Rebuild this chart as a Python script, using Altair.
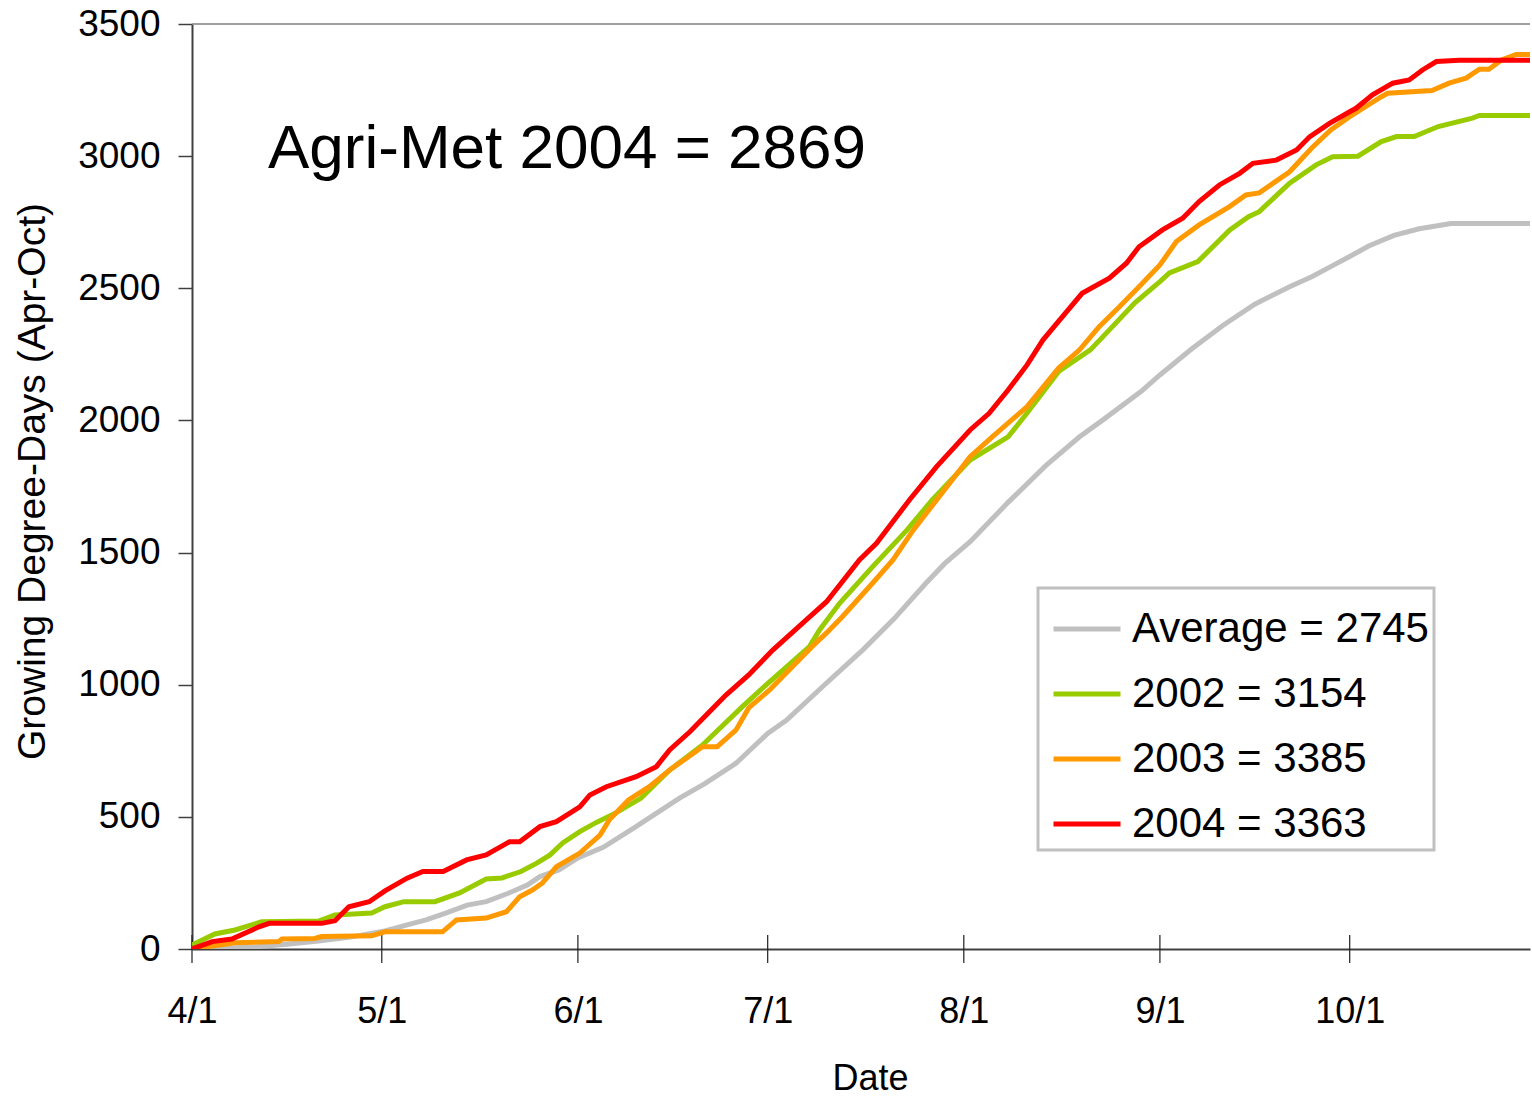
import altair as alt
import pandas as pd

# ---------------- data ----------------
series_names = ["Average = 2745", "2002 = 3154", "2003 = 3385", "2004 = 3363"]
series_colors = ["#C0C0C0", "#99CC00", "#FF9900", "#FF0000"]

avg_days = [0, 5, 10, 15, 20, 25, 30.5, 34, 37, 40, 43.5, 46.5, 50, 53, 55, 58, 61,
            65, 70, 77, 81, 86, 91, 94, 100, 106, 111, 116, 119, 123, 129, 135,
            140.3, 144, 150, 153, 158, 163, 168, 173.5, 177, 180, 183, 186, 190,
            194, 199, 213]
avg_vals = [0, 3, 8, 18, 30, 45, 68, 91, 110, 135, 166, 179, 211, 242, 274, 299, 345,
            385, 460, 570, 625, 703, 816, 866, 1000, 1131, 1250, 1384, 1459, 1541, 1690, 1830,
            1938, 2002, 2109, 2172, 2270, 2360, 2440, 2506, 2544, 2582, 2620, 2660, 2700,
            2725, 2745, 2745]

y2002_days = [0, 3.6, 6.8, 11, 20, 22.6, 28.4, 30.5, 33.5, 38.4, 42.3, 46.5, 49, 52, 54.5,
              56.6, 58.6, 61.3, 64, 67, 71, 75.5, 80.7, 87, 91.3, 97.6, 99.2, 102.4, 107.6,
              113, 117, 123, 129, 132, 137, 142, 145.5, 149, 153, 154.5, 159, 164, 167,
              168.7, 173.5, 177.7, 180.3, 184.3, 188, 190.4, 193.2, 197, 202.4, 203.5, 213]
y2002_vals = [15, 57, 72, 103, 106, 129, 136, 160, 179, 179, 212, 265, 269, 293, 325,
              356, 401, 444, 480, 515, 571, 677, 772, 917, 1011, 1144, 1207, 1309, 1447,
              1585, 1699, 1850, 1938, 2028, 2185, 2267, 2355, 2444, 2525, 2558, 2601, 2720, 2771,
              2790, 2898, 2967, 2998, 3000, 3055, 3074, 3074, 3112, 3144, 3154, 3154]

y2003_days = [0, 6.8, 13.7, 14.2, 19.4, 20.5, 28.4, 30.5, 39.6, 41.8, 46.5, 49.7, 51.8, 53.8,
              55.4, 57.6, 61.3, 64.5, 66, 69, 72.3, 75.5, 80.7, 83, 86, 88, 91.3, 98, 100.3,
              102.8, 107.6, 110.8, 114, 117.7, 123, 126.5, 132, 137, 140.3, 143.4, 146.6,
              149.7, 153, 155.6, 159.2, 164, 166.6, 168.7, 173.5, 177, 180, 183, 188, 189,
              196, 198.7, 201.4, 203.5, 205, 207, 209.3, 213]
y2003_vals = [0, 24, 28, 38, 40, 47, 50, 65, 65, 110, 117, 141, 198, 223,
              250, 311, 363, 431, 490, 564, 614, 677, 765, 765, 829, 912, 980, 1144, 1196,
              1257, 1385, 1472, 1585, 1699, 1863, 1938, 2052, 2198, 2267, 2355, 2430,
              2506, 2588, 2677, 2740, 2809, 2853, 2861, 2941, 3031, 3099, 3149, 3225, 3238,
              3248, 3276, 3295, 3329, 3329, 3364, 3385, 3385]

y2004_days = [0, 3.2, 6.3, 10.6, 12.2, 20.5, 22.6, 24.8, 28, 30.5, 34, 36.5, 39.7, 43.4,
              46.5, 50.2, 51.8, 55, 57.6, 61.3, 62.9, 65.5, 70.2, 73.4, 75.5, 78.7, 81.8,
              84.4, 88, 91.8, 97.1, 100.3, 105.5, 108.2, 113.4, 117.7, 123, 126, 129, 132,
              134.5, 137.6, 140.7, 145, 147.7, 149.7, 153.4, 156.6, 159.2, 162.4, 165.6,
              167.7, 171.4, 174.6, 176.7, 179.8, 183, 184, 186.6, 189.8, 192.4, 194.5,
              196.7, 200.3, 213]
y2004_vals = [0, 28, 38, 84, 97, 97, 107, 160, 179, 220, 268, 293, 293, 337,
              356, 406, 406, 463, 482, 538, 583, 614, 652, 690, 753, 822, 898,
              961, 1037, 1131, 1245, 1314, 1472, 1535, 1699, 1825, 1964, 2027, 2115, 2210,
              2304, 2393, 2481, 2538, 2595, 2657, 2721, 2765, 2828, 2891, 2935,
              2973, 2985, 3023, 3074, 3124, 3168, 3181, 3232, 3276, 3288, 3326,
              3358, 3363, 3363]

tick_days = [0, 30, 61, 91, 122, 153, 183]
tick_labels = ["4/1", "5/1", "6/1", "7/1", "8/1", "9/1", "10/1"]
y_ticks = [0, 500, 1000, 1500, 2000, 2500, 3000, 3500]

chart_title = ["Agri-Met 2004 = 2869"]
x_title = "Date"
y_title = "Growing Degree-Days (Apr-Oct)"

# ---------------- build ----------------
all_days = [avg_days, y2002_days, y2003_days, y2004_days]
all_vals = [avg_vals, y2002_vals, y2003_vals, y2004_vals]
frames = [pd.DataFrame({"day": d, "gdd": v, "series": n})
          for n, d, v in zip(series_names, all_days, all_vals)]

FONT = "Liberation Sans"
W, H = 1338, 925

x_scale = alt.Scale(domain=[0, 211.5], nice=False, zero=False)
y_scale = alt.Scale(domain=[0, 3500], nice=False)
color_scale = alt.Scale(domain=series_names, range=series_colors)

label_expr = ("[" + ",".join(f"'{l}'" for l in tick_labels) + "][indexof(["
              + ",".join(str(t) for t in tick_days) + "], datum.value)]")

x_axis = alt.Axis(values=tick_days, labelExpr=label_expr, ticks=False, grid=False,
                  labelPadding=62, labelBaseline="middle", labelFontSize=36,
                  labelFlush=False, labelOverlap=False,
                  domainColor="#404040", domainWidth=2,
                  title=x_title, titleFontSize=36, titleX=678, titleY=129,
                  titleBaseline="middle")
y_axis = alt.Axis(values=y_ticks, format="d", grid=False, tickSize=14, tickColor="#404040",
                  tickWidth=1.5, labelPadding=18, labelFontSize=37,
                  labelBaseline="middle",
                  domainColor="#404040", domainWidth=2,
                  title=y_title, titleFontSize=39, titleX=-160, titleY=457,
                  titleBaseline="middle")

x_enc = alt.X("day:Q", scale=x_scale, axis=x_axis)
y_enc = alt.Y("gdd:Q", scale=y_scale, axis=y_axis)

legend = alt.Legend(title=None, orient="none", legendX=846, legendY=564,
                    symbolType="stroke", symbolSize=4489, symbolStrokeWidth=5,
                    symbolOffset=8,
                    labelFontSize=42, labelFont=FONT, labelColor="black",
                    labelLimit=0, labelOffset=9, rowPadding=8, padding=5,
                    strokeColor="#C0C0C0")

border = alt.Chart(pd.DataFrame({"k": [0]})).mark_rule(
    color="#808080", strokeWidth=1.5).encode(
    x=alt.value(0), x2=alt.value(W), y=alt.value(0))

ticks = alt.Chart(pd.DataFrame({"day": tick_days})).mark_rule(
    color="#202020", strokeWidth=1.2).encode(
    x=x_enc, y=alt.value(H - 14), y2=alt.value(H + 14))

title_text = alt.Chart(pd.DataFrame({"t": chart_title})).mark_text(
    align="left", baseline="alphabetic", fontSize=62, font=FONT, color="black").encode(
    text="t:N", x=alt.value(76), y=alt.value(144))

lines = [
    alt.Chart(f).mark_line(strokeWidth=5, clip=True).encode(
        x=x_enc, y=y_enc,
        color=alt.Color("series:N", scale=color_scale, legend=legend))
    for f in frames
]

chart = alt.layer(border, ticks, title_text, *lines).properties(
    width=W, height=H,
    padding={"left": 192, "top": 24, "right": 2, "bottom": 147},
    autosize=alt.AutoSizeParams(type="none"),
).configure_view(stroke=None).configure_axis(
    labelFont=FONT, titleFont=FONT, labelColor="black", titleColor="black",
    titleFontWeight="normal"
).configure_legend(strokeWidth=3)

chart.save("out.html", embed_options={"renderer": "svg", "actions": False})
